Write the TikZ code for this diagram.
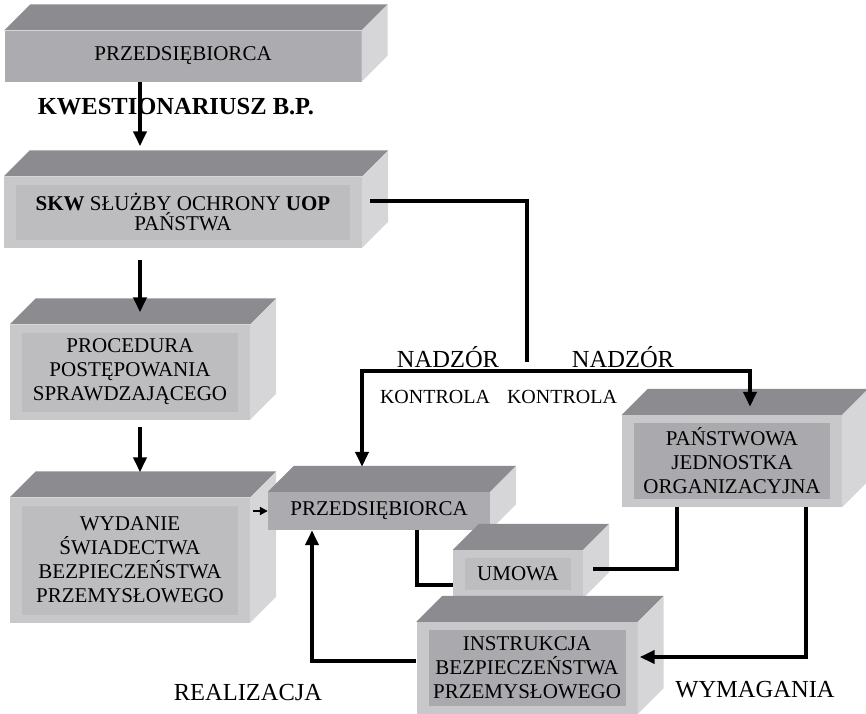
\documentclass[tikz,border=0pt]{standalone}
\usepackage{fontspec}
\setmainfont{Liberation Serif}
\usetikzlibrary{arrows.meta}

\definecolor{wierzch}{RGB}{140,140,144}
\definecolor{bok}{RGB}{214,214,217}
\definecolor{czolo}{RGB}{200,200,203}
\definecolor{czolociemne}{RGB}{172,172,176}
\definecolor{srodek}{RGB}{189,189,192}
\definecolor{srodekciemny}{RGB}{170,170,174}

% top and side face of a block
\newcommand{\bryla}[1]{%
\fill[wierzch] (#1.north west) -- ++(26pt,26pt) -- ([shift={(26pt,26pt)}]#1.north east) -- (#1.north east) -- cycle;
\fill[bok] (#1.north east) -- ++(26pt,26pt) -- ([shift={(26pt,26pt)}]#1.south east) -- (#1.south east) -- cycle;
}

\begin{document}
\begin{tikzpicture}[x=1pt, y=-1pt,
  blok/.style={fill=czolo, inner sep=0pt, align=center, font=\fontsize{21}{24}\selectfont},
  ramka/.style={path picture={\fill[#1] ([shift={(12pt,-8pt)}]path picture bounding box.north west) rectangle ([shift={(-12pt,8pt)}]path picture bounding box.south east);}},
  napis/.style={font=\fontsize{20}{24}\selectfont},
  duzy/.style={font=\fontsize{24.5}{28}\selectfont},
  grot/.tip={Triangle[length=15pt,width=13pt]},
  linia/.style={line width=4pt},
  strzalka/.style={line width=4pt, -grot},
  obie/.style={line width=4pt, grot-grot},
  cienka/.style={line width=2pt, -{Triangle[length=8pt,width=8pt]}}]
\useasboundingbox (0,0) rectangle (866,713);

\node[blok, fill=czolociemne, minimum width=357pt, minimum height=51pt] (przed1) at (183,56) {PRZEDSIĘBIORCA};
\bryla{przed1}

\node[blok, ramka=srodek, font=\fontsize{21}{20}\selectfont, minimum width=358pt, minimum height=71pt] (skw) at (183,212) {\textbf{SKW} SŁUŻBY OCHRONY \textbf{UOP}\\PAŃSTWA};
\bryla{skw}

\node[blok, ramka=srodek, minimum width=240pt, minimum height=95pt] (proc) at (130,372) {PROCEDURA\\POSTĘPOWANIA\\SPRAWDZAJĄCEGO};
\bryla{proc}

\node[blok, ramka=srodek, minimum width=240pt, minimum height=125pt] (wyd) at (130,560) {WYDANIE\\ŚWIADECTWA\\BEZPIECZEŃSTWA\\PRZEMYSŁOWEGO};
\bryla{wyd}

\node[blok, fill=czolociemne, minimum width=222pt, minimum height=38pt] (przed2) at (379,511) {PRZEDSIĘBIORCA};
\bryla{przed2}

\node[blok, ramka=srodek, minimum width=130pt, minimum height=48pt] (umowa) at (518,574) {UMOWA};
\bryla{umowa}

\node[blok, ramka=srodekciemny, minimum width=221pt, minimum height=92pt] (instr) at (527,668) {INSTRUKCJA\\BEZPIECZEŃSTWA\\PRZEMYSŁOWEGO};
\bryla{instr}

\node[blok, ramka=srodekciemny, minimum width=220pt, minimum height=92pt] (panst) at (732,461) {PAŃSTWOWA\\JEDNOSTKA\\ORGANIZACYJNA};
\bryla{panst}

% labels
\node[font=\bfseries\fontsize{24.5}{28}\selectfont] (kwest) at (176,107) {KWESTIONARIUSZ B.P.};
\node[duzy] (nadzor1) at (448,357) {NADZÓR};
\node[duzy] (nadzor2) at (623,357) {NADZÓR};
\node[napis] (kontrola1) at (435,397) {KONTROLA};
\node[napis] (kontrola2) at (562,397) {KONTROLA};
\node[duzy] (realizacja) at (248,692) {REALIZACJA};
\node[duzy] (wymagania) at (755,690) {WYMAGANIA};

\coordinate (os) at (140,0);
\coordinate (rozgal) at (527,362);
\coordinate (lewy) at (362,371);
\coordinate (prawy) at (750,371);

% arrows
\draw[strzalka] (przed1.south -| os) -- ([yshift=30pt]skw.north -| os);
\draw[strzalka] ([yshift=-12pt]skw.south -| os) -- ([yshift=12pt]proc.north -| os);
\draw[strzalka] ([yshift=-7pt]proc.south -| os) -- ([yshift=25pt]wyd.north -| os);
\draw[cienka] ([xshift=3pt]wyd.east |- przed2.west) -- (przed2.west);

\draw[linia] ([shift={(8pt,11pt)}]skw.east) -| (rozgal);
\draw[obie] ([yshift=25pt]przed2.north -| lewy) -- (lewy) -- (prawy) -- ([yshift=8pt]panst.north -| prawy);

\draw[linia] ([xshift=38pt]przed2.south) |- ([yshift=-11pt]umowa.west);
\draw[linia] ([shift={(10pt,5pt)}]umowa.east) -| ([xshift=-55pt]panst.south);
\draw[strzalka] ([xshift=74pt]panst.south) |- ([shift={(2pt,11pt)}]instr.east);
\draw[strzalka] ([yshift=7pt]instr.west) -| ([xshift=-67pt]przed2.south);
\end{tikzpicture}
\end{document}
